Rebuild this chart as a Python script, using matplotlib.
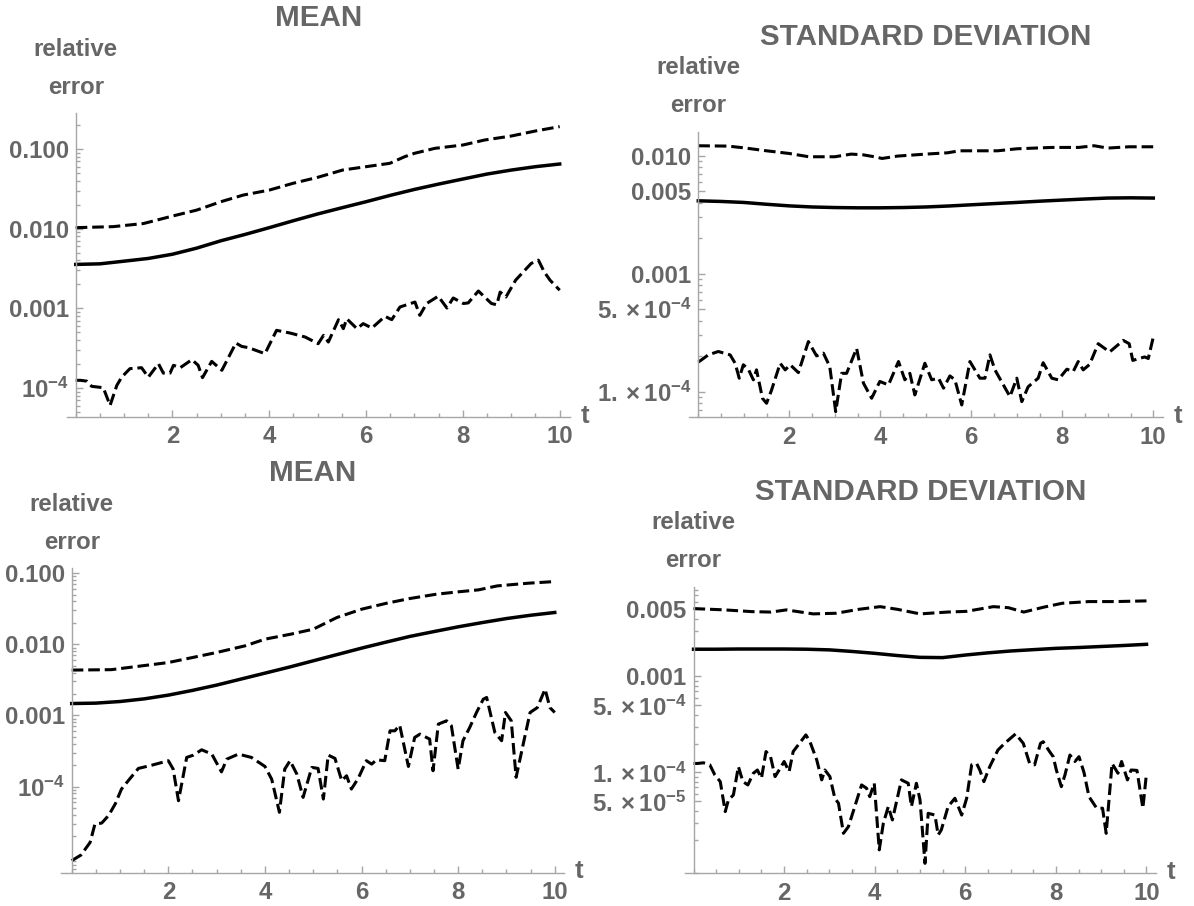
import matplotlib.pyplot as plt
import numpy as np
from matplotlib.ticker import LogLocator, MultipleLocator, NullFormatter

plt.rcParams['font.family'] = 'Liberation Sans'
plt.rcParams['font.weight'] = 'bold'
plt.rcParams['mathtext.fontset'] = 'custom'
plt.rcParams['mathtext.rm'] = 'Liberation Sans:bold'
plt.rcParams['mathtext.it'] = 'Liberation Sans:bold'
plt.rcParams['mathtext.bf'] = 'Liberation Sans:bold'

TEXT_GRAY = '#666666'
AXIS_GRAY = '#a6a6a6'

# ---- top left: mean ----
t_tl_solid = [0, 0.5, 1, 1.5, 2, 2.5, 3, 3.5, 4, 4.5, 5, 5.5, 6, 6.5, 7, 7.5, 8, 8.5, 9, 9.5, 10]
tl_solid = [0.00356, 0.00362, 0.00391, 0.00423, 0.00478, 0.00570, 0.00705, 0.00847, 0.0103, 0.0126,
            0.0153, 0.0183, 0.0218, 0.0262, 0.0311, 0.0363, 0.0420, 0.0485, 0.0544, 0.0600, 0.0648]
t_tl_upper = [0, 0.77, 1.4, 2.0, 2.5, 3.0, 3.46, 4.0, 4.49, 5.0, 5.52, 6.0, 6.49, 6.8, 7.0, 7.42,
              8.0, 8.45, 9.0, 9.5, 10]
tl_upper = [0.0103, 0.0106, 0.0116, 0.0144, 0.0171, 0.0218, 0.0264, 0.0305, 0.0371, 0.0441, 0.0545,
            0.0600, 0.0661, 0.0802, 0.0883, 0.1019, 0.1122, 0.1297, 0.1455, 0.1683, 0.191]
t_tl_lower = [0, 0.10, 0.23, 0.33, 0.57, 0.71, 0.85, 0.95, 1.12, 1.36, 1.50, 1.71, 1.81, 1.95, 2.02,
              2.16, 2.40, 2.53, 2.62, 2.81, 3.02, 3.31, 3.43, 3.57, 3.91, 4.15, 4.43, 4.74, 5.01, 5.12,
              5.22, 5.43, 5.53, 5.60, 5.81, 5.94, 6.12, 6.39, 6.53, 6.70, 7.01, 7.11, 7.25, 7.49, 7.67,
              7.80, 8.01, 8.11, 8.32, 8.59, 8.70, 8.77, 8.89, 9.09, 9.41, 9.56, 9.68, 9.80, 10.0]
tl_lower = [1.25e-4, 1.25e-4, 1.22e-4, 1.05e-4, 1.01e-4, 6.05e-5, 1.08e-4, 1.37e-4, 1.75e-4, 1.80e-4,
            1.37e-4, 2.02e-4, 1.54e-4, 1.54e-4, 1.93e-4, 1.80e-4, 2.27e-4, 1.93e-4, 1.35e-4, 2.16e-4,
            1.67e-4, 3.67e-4, 3.33e-4, 3.21e-4, 2.70e-4, 5.30e-4, 4.90e-4, 4.37e-4, 3.60e-4, 4.58e-4,
            3.78e-4, 7.21e-4, 5.56e-4, 7.41e-4, 5.56e-4, 6.43e-4, 5.66e-4, 7.94e-4, 7.21e-4, 1.04e-3,
            1.20e-3, 8.17e-4, 1.15e-3, 1.42e-3, 1.01e-3, 1.35e-3, 1.15e-3, 1.17e-3, 1.65e-3, 1.15e-3,
            1.11e-3, 1.60e-3, 1.39e-3, 2.26e-3, 3.66e-3, 4.03e-3, 2.87e-3, 2.26e-3, 1.69e-3]

# ---- top right: standard deviation ----
t_tr_solid = [0, 0.5, 1, 1.5, 2, 2.5, 3, 3.5, 4, 4.5, 5, 5.5, 6, 6.5, 7, 7.5, 8, 8.5, 9, 9.5, 10]
tr_solid = [0.00415, 0.00410, 0.00402, 0.00388, 0.00376, 0.00368, 0.00364, 0.00362, 0.00362, 0.00364,
            0.00368, 0.00375, 0.00384, 0.00393, 0.00402, 0.00412, 0.00421, 0.00430, 0.00438, 0.00440,
            0.00438]
t_tr_upper = [0, 0.65, 0.99, 1.5, 1.99, 2.43, 3.0, 3.36, 3.62, 3.87, 4.04, 4.38, 5.0, 5.48, 5.74, 6.25,
              6.58, 7.0, 7.77, 8.36, 8.70, 9.0, 9.47, 10]
tr_upper = [0.01216, 0.01208, 0.01169, 0.01102, 0.01047, 0.00981, 0.00981, 0.01033, 0.01019, 0.00981,
            0.00949, 0.00994, 0.01033, 0.01060, 0.01102, 0.01102, 0.01102, 0.01146, 0.01177, 0.01177,
            0.01216, 0.01162, 0.01192, 0.01192]
t_tr_lower = [0, 0.07, 0.22, 0.44, 0.70, 0.81, 0.90, 0.99, 1.10, 1.21, 1.28, 1.41, 1.50, 1.61, 1.80,
              1.91, 2.02, 2.20, 2.42, 2.60, 2.75, 2.89, 3.02, 3.15, 3.26, 3.48, 3.63, 3.81, 3.99, 4.18,
              4.40, 4.54, 4.65, 4.76, 4.98, 5.13, 5.28, 5.39, 5.53, 5.64, 5.79, 5.97, 6.19, 6.30, 6.41,
              6.52, 6.85, 7.00, 7.11, 7.25, 7.47, 7.58, 7.77, 7.91, 8.10, 8.24, 8.35, 8.46, 8.60, 8.79,
              9.04, 9.34, 9.47, 9.55, 9.81, 9.89, 10.0]
tr_lower = [1.78e-4, 1.86e-4, 2.05e-4, 2.19e-4, 2.05e-4, 1.74e-4, 1.30e-4, 1.69e-4, 1.55e-4, 1.26e-4,
            1.53e-4, 8.79e-5, 7.97e-5, 1.03e-4, 1.74e-4, 1.53e-4, 1.69e-4, 1.45e-4, 2.66e-4, 2.01e-4,
            2.12e-4, 1.63e-4, 6.77e-5, 1.43e-4, 1.43e-4, 2.33e-4, 1.18e-4, 8.79e-5, 1.22e-4, 1.14e-4,
            1.80e-4, 1.26e-4, 1.43e-4, 9.38e-5, 1.74e-4, 1.26e-4, 1.30e-4, 1.07e-4, 1.36e-4, 1.26e-4,
            7.71e-5, 1.80e-4, 1.30e-4, 1.30e-4, 2.05e-4, 1.53e-4, 9.07e-5, 1.30e-4, 8.23e-5, 1.10e-4,
            1.30e-4, 1.76e-4, 1.30e-4, 1.26e-4, 1.55e-4, 1.48e-4, 1.80e-4, 1.53e-4, 1.70e-4, 2.55e-4,
            2.17e-4, 2.72e-4, 2.55e-4, 1.84e-4, 1.97e-4, 1.91e-4, 2.90e-4]

# ---- bottom left: mean ----
t_bl_solid = [0, 0.5, 1, 1.5, 2, 2.5, 3, 3.5, 4, 4.5, 5, 5.5, 6, 6.5, 7, 7.5, 8, 8.5, 9, 9.5, 10]
bl_solid = [1.47e-3, 1.49e-3, 1.57e-3, 1.71e-3, 1.93e-3, 2.25e-3, 2.67e-3, 3.24e-3, 3.93e-3, 4.77e-3,
            5.86e-3, 7.19e-3, 8.83e-3, 1.07e-2, 1.29e-2, 1.51e-2, 1.76e-2, 2.02e-2, 2.30e-2, 2.56e-2,
            2.80e-2]
t_bl_upper = [0, 0.82, 2.0, 3.0, 3.59, 4.0, 4.54, 5.0, 5.49, 6.0, 6.52, 7.0, 7.55, 8.0, 8.42, 8.81, 9.45, 10]
bl_upper = [4.34e-3, 4.40e-3, 5.54e-3, 7.67e-3, 9.52e-3, 1.18e-2, 1.39e-2, 1.63e-2, 2.38e-2, 3.11e-2,
            3.78e-2, 4.40e-2, 5.06e-2, 5.46e-2, 5.82e-2, 6.62e-2, 7.22e-2, 7.62e-2]
t_bl_lower = [0, 0.19, 0.38, 0.48, 0.62, 0.76, 0.90, 1.03, 1.17, 1.38, 1.66, 2.00, 2.10, 2.21, 2.38,
              2.52, 2.69, 2.90, 3.10, 3.21, 3.45, 3.72, 4.00, 4.14, 4.30, 4.41, 4.52, 4.66, 4.79, 4.97,
              5.10, 5.21, 5.31, 5.45, 5.59, 5.69, 5.79, 5.93, 6.10, 6.21, 6.31, 6.48, 6.59, 6.69, 6.79,
              6.97, 7.10, 7.21, 7.41, 7.48, 7.59, 7.76, 7.86, 8.00, 8.10, 8.24, 8.38, 8.52, 8.59, 8.76,
              8.90, 8.98, 9.10, 9.20, 9.37, 9.49, 9.64, 9.80, 9.90, 10.0]
bl_lower = [9.1e-6, 1.09e-5, 1.64e-5, 2.97e-5, 3.07e-5, 3.90e-5, 5.69e-5, 9.23e-5, 1.21e-4, 1.80e-4,
            2.00e-4, 2.31e-4, 1.76e-4, 6.32e-5, 2.57e-4, 2.77e-4, 3.29e-4, 2.86e-4, 1.61e-4, 2.43e-4,
            2.86e-4, 2.57e-4, 1.92e-4, 1.27e-4, 4.35e-5, 1.76e-4, 2.31e-4, 1.50e-4, 7.05e-5, 1.86e-4,
            1.80e-4, 6.68e-5, 2.77e-4, 2.49e-4, 1.21e-4, 1.42e-4, 9.23e-5, 1.30e-4, 2.31e-4, 2.07e-4,
            2.38e-4, 2.31e-4, 6.08e-4, 6.08e-4, 7.31e-4, 1.92e-4, 4.90e-4, 5.46e-4, 4.65e-4, 1.67e-4,
            7.55e-4, 8.41e-4, 7.16e-4, 1.76e-4, 4.41e-4, 6.78e-4, 1.10e-3, 1.69e-3, 1.79e-3, 5.77e-4,
            4.41e-4, 1.10e-3, 8.41e-4, 1.35e-4, 4.66e-4, 1.10e-3, 1.29e-3, 2.34e-3, 1.29e-3, 1.10e-3]

# ---- bottom right: standard deviation ----
t_br_solid = [0, 0.5, 1, 1.5, 2, 2.5, 3, 3.5, 4, 4.5, 5, 5.5, 6, 6.5, 7, 7.5, 8, 8.5, 9, 9.5, 10]
br_solid = [1.92e-3, 1.92e-3, 1.93e-3, 1.93e-3, 1.93e-3, 1.92e-3, 1.89e-3, 1.82e-3, 1.74e-3, 1.65e-3,
            1.58e-3, 1.57e-3, 1.67e-3, 1.76e-3, 1.84e-3, 1.90e-3, 1.96e-3, 2.00e-3, 2.05e-3, 2.10e-3,
            2.16e-3]
t_br_upper = [0, 0.69, 1.29, 1.71, 2.05, 2.64, 3.15, 3.65, 4.12, 4.5, 5.0, 5.6, 6.02, 6.62, 6.95, 7.29,
              7.72, 8.14, 8.73, 9.32, 10]
br_upper = [5.09e-3, 4.93e-3, 4.73e-3, 4.68e-3, 4.93e-3, 4.48e-3, 4.55e-3, 5.00e-3, 5.33e-3, 5.00e-3,
            4.48e-3, 4.68e-3, 4.76e-3, 5.33e-3, 5.20e-3, 4.68e-3, 5.25e-3, 5.78e-3, 6.02e-3, 6.02e-3, 6.12e-3]
t_br_lower = [0, 0.09, 0.22, 0.36, 0.47, 0.59, 0.70, 0.77, 0.88, 0.99, 1.09, 1.20, 1.32, 1.41, 1.50,
              1.60, 1.70, 1.80, 1.89, 2.00, 2.11, 2.20, 2.31, 2.48, 2.57, 2.72, 2.83, 2.90, 3.01, 3.12,
              3.20, 3.31, 3.42, 3.56, 3.71, 3.82, 3.89, 3.99, 4.10, 4.19, 4.30, 4.39, 4.59, 4.74, 4.81,
              4.92, 5.00, 5.11, 5.18, 5.33, 5.40, 5.47, 5.62, 5.77, 5.92, 6.03, 6.14, 6.25, 6.32, 6.41,
              6.54, 6.72, 6.87, 7.11, 7.28, 7.42, 7.53, 7.66, 7.72, 7.86, 7.94, 8.01, 8.12, 8.20, 8.31,
              8.42, 8.51, 8.62, 8.73, 8.90, 9.03, 9.11, 9.24, 9.37, 9.45, 9.58, 9.66, 9.79, 9.92, 10.0]
br_lower = [1.24e-4, 1.24e-4, 1.26e-4, 1.20e-4, 9.42e-5, 8.02e-5, 3.91e-5, 5.17e-5, 5.82e-5, 1.15e-4,
            8.02e-5, 7.41e-5, 9.80e-5, 1.06e-4, 8.71e-5, 1.65e-4, 1.46e-4, 9.06e-5, 1.06e-4, 1.30e-4,
            1.02e-4, 1.65e-4, 1.93e-4, 2.46e-4, 2.09e-4, 1.35e-4, 8.36e-5, 1.06e-4, 9.06e-5, 5.38e-5,
            4.78e-5, 2.32e-5, 2.73e-5, 4.41e-5, 7.41e-5, 6.84e-5, 5.60e-5, 7.71e-5, 1.56e-5, 2.95e-5,
            4.41e-5, 3.20e-5, 8.36e-5, 7.71e-5, 4.41e-5, 7.71e-5, 5.17e-5, 1.13e-5, 3.75e-5, 3.60e-5,
            2.23e-5, 2.52e-5, 4.41e-5, 5.38e-5, 3.60e-5, 5.38e-5, 1.20e-4, 1.24e-4, 1.06e-4, 8.02e-5,
            1.15e-4, 1.71e-4, 2.01e-4, 2.52e-4, 2.01e-4, 1.24e-4, 1.20e-4, 2.01e-4, 2.09e-4, 1.65e-4,
            1.46e-4, 1.06e-4, 7.11e-5, 9.42e-5, 1.52e-4, 1.30e-4, 1.46e-4, 1.00e-4, 5.60e-5, 4.24e-5,
            4.24e-5, 2.32e-5, 1.24e-4, 9.80e-5, 1.30e-4, 8.36e-5, 1.06e-4, 1.05e-4, 4.24e-5, 9.80e-5]

# tick positions and labels
x_ticks = [2, 4, 6, 8, 10]
x_labels = ['2', '4', '6', '8', '10']
mean_ticks = [1e-4, 1e-3, 1e-2, 1e-1]
mean_labels = [r'$10^{-4}$', '0.001', '0.010', '0.100']
std_top_ticks = [1e-4, 5e-4, 1e-3, 5e-3, 1e-2]
std_top_labels = [r'$1.\times10^{-4}$', r'$5.\times10^{-4}$', '0.001', '0.005', '0.010']
std_bottom_ticks = [5e-5, 1e-4, 5e-4, 1e-3, 5e-3]
std_bottom_labels = [r'$5.\times10^{-5}$', r'$1.\times10^{-4}$', r'$5.\times10^{-4}$', '0.001', '0.005']

W, H = 1194, 906
fig = plt.figure(figsize=(W / 100, H / 100), dpi=100)


def add_panel(left, top, right, bottom):
    # rectangle given in pixels from the top-left corner
    return fig.add_axes([left / W, 1 - bottom / H, (right - left) / W, (bottom - top) / H])


def style_panel(ax, title, xlim, ylim, yticks, ylabels):
    ax.set_yscale('log')
    ax.set_xlim(*xlim)
    ax.set_ylim(*ylim)
    for side in ('top', 'right'):
        ax.spines[side].set_visible(False)
    ax.spines['left'].set_position(('data', 0))
    for side in ('left', 'bottom'):
        ax.spines[side].set_color(AXIS_GRAY)
        ax.spines[side].set_linewidth(1.0)

    ax.set_xticks(x_ticks, labels=x_labels)
    ax.xaxis.set_minor_locator(MultipleLocator(0.5))
    ax.set_yticks(yticks, labels=ylabels)
    ax.yaxis.set_minor_locator(LogLocator(base=10, subs=np.arange(2, 10), numticks=30))
    ax.yaxis.set_minor_formatter(NullFormatter())

    ax.tick_params(which='both', direction='in', color=AXIS_GRAY, width=1.0,
                   labelcolor=TEXT_GRAY, labelsize=17.3)
    ax.tick_params(which='major', length=5)
    ax.tick_params(which='minor', length=3)
    ax.tick_params(axis='x', pad=6)
    ax.tick_params(axis='y', pad=5)

    txt = dict(color=TEXT_GRAY, fontweight='bold', ha='center', va='center',
               textcoords='offset pixels')
    ax.annotate(title, xy=(0.5, 1), xycoords='axes fraction', xytext=(0, 95), fontsize=21.3, **txt)
    ytr = ax.get_xaxis_transform()
    ax.annotate('relative', xy=(0, 1), xycoords=ytr, xytext=(0, 64), fontsize=17.3, **txt)
    ax.annotate('error', xy=(0, 1), xycoords=ytr, xytext=(0, 26), fontsize=17.3, **txt)
    ax.annotate('t', xy=(1, 0), xycoords='axes fraction', xytext=(15, 1), fontsize=18.5, **txt)


def draw_curves(ax, solid, upper, lower):
    ax.plot(*solid, color='black', lw=2.5)
    for t, v in (upper, lower):
        ax.plot(t, v, color='black', lw=2.2, dashes=(3.8, 1.6))


ax_tl = add_panel(66.7, 113, 570, 417)
style_panel(ax_tl, 'MEAN', (-0.186, 10.213), (4.33e-5, 0.283), mean_ticks, mean_labels)
draw_curves(ax_tl, (t_tl_solid, tl_solid), (t_tl_upper, tl_upper), (t_tl_lower, tl_lower))

ax_tr = add_panel(689, 131.7, 1162.7, 417.3)
style_panel(ax_tr, 'STANDARD DEVIATION', (-0.204, 10.207), (6.06e-5, 0.016), std_top_ticks, std_top_labels)
draw_curves(ax_tr, (t_tr_solid, tr_solid), (t_tr_upper, tr_upper), (t_tr_lower, tr_lower))

ax_bl = add_panel(61.4, 568.3, 564.4, 872.5)
style_panel(ax_bl, 'MEAN', (-0.214, 10.2), (6.2e-6, 0.117), mean_ticks, mean_labels)
draw_curves(ax_bl, (t_bl_solid, bl_solid), (t_bl_upper, bl_upper), (t_bl_lower, bl_lower))

ax_br = add_panel(684.7, 586.7, 1156, 873.3)
style_panel(ax_br, 'STANDARD DEVIATION', (-0.195, 10.21), (8.9e-6, 0.0086), std_bottom_ticks, std_bottom_labels)
draw_curves(ax_br, (t_br_solid, br_solid), (t_br_upper, br_upper), (t_br_lower, br_lower))

fig.savefig('out.png', dpi=100)
